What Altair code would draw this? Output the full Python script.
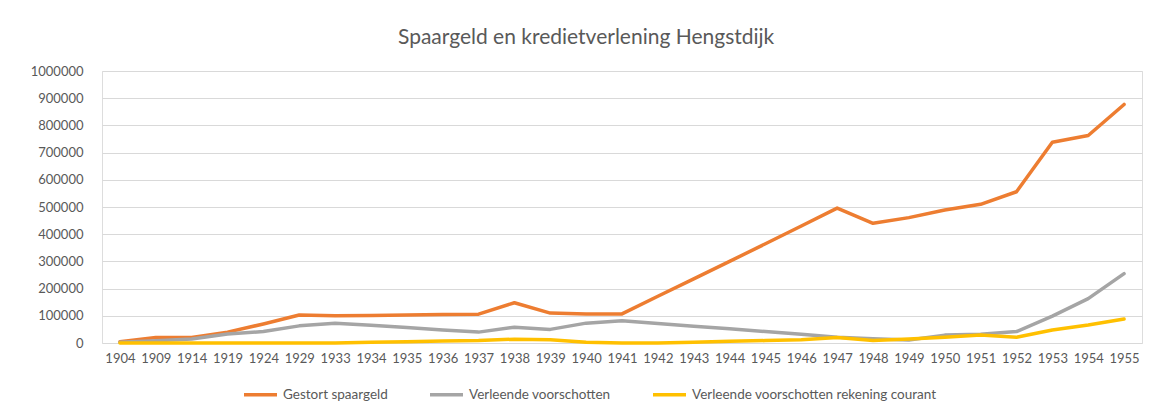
import altair as alt
import pandas as pd

years = ["1904", "1909", "1914", "1919", "1924", "1929", "1933", "1934", "1935", "1936",
         "1937", "1938", "1939", "1940", "1941", "1942", "1943", "1944", "1945", "1946",
         "1947", "1948", "1949", "1950", "1951", "1952", "1953", "1954", "1955"]

gestort = [5000, 20000, 20000, 40000, 70000, 103000, 100000, 101000, 103000, 105000,
           106000, 148000, 110000, 107000, 107000, 172000, 236000, 300000, 365000, 430000,
           496000, 440000, 461000, 489000, 510000, 556000, 738000, 763000, 877000]

voorschotten = [3000, 8000, 15000, 33000, 42000, 63000, 73000, 65000, 57000, 48000,
                40000, 58000, 50000, 73000, 82000, 72000, 62000, 52000, 42000, 32000,
                21000, 16000, 11000, 29000, 32000, 42000, 99000, 163000, 255000]

rekening_courant = [0, 0, 0, 0, 0, 0, 0, 3000, 5000, 7000,
                    9000, 14000, 12000, 3000, 0, 0, 3000, 6000, 9000, 12000,
                    20000, 9000, 15000, 21000, 29000, 21000, 48000, 66000, 88000]

series_names = ["Gestort spaargeld", "Verleende voorschotten",
                "Verleende voorschotten rekening courant"]
series_colors = ["#ED7D31", "#A5A5A5", "#FFC000"]
y_ticks = list(range(0, 1000001, 100000))

rows = []
for name, vals in zip(series_names, [gestort, voorschotten, rekening_courant]):
    for i, (yr, v) in enumerate(zip(years, vals)):
        rows.append({"jaar": yr, "waarde": v, "reeks": name, "order": i})
df = pd.DataFrame(rows)

W, H = 1040, 272
FONT = "Lato"
TXT = "#595959"

chart = alt.Chart(df).mark_line(
    strokeWidth=3.5, strokeCap="round", strokeJoin="round"
).encode(
    x=alt.X("jaar:N", sort=years,
            scale=alt.Scale(type="point", padding=0.5),
            axis=alt.Axis(title=None, labelAngle=0, domain=False, ticks=False,
                          grid=False, labelPadding=9, labelFontSize=13,
                          labelColor=TXT, labelFont=FONT)),
    y=alt.Y("waarde:Q",
            scale=alt.Scale(domain=[0, 1000000], nice=False),
            axis=alt.Axis(title=None, values=y_ticks, format="d", domain=False,
                          ticks=False, grid=True, gridColor="#D9D9D9",
                          labelPadding=19, labelFontSize=13, labelColor=TXT,
                          labelFont=FONT)),
    color=alt.Color("reeks:N",
                    scale=alt.Scale(domain=series_names, range=series_colors),
                    legend=alt.Legend(title=None, orient="none", direction="horizontal",
                                      legendX=140, legendY=305,
                                      symbolType="stroke", symbolSize=1089,
                                      symbolStrokeWidth=3.5, labelOffset=4,
                                      columnPadding=35, labelFontSize=13.5,
                                      labelLimit=500,
                                      labelColor=TXT, labelFont=FONT)),
    order="order:Q",
).properties(
    width=W, height=H,
    title=alt.TitleParams("Spaargeld en kredietverlening Hengstdijk", fontSize=21,
                          font=FONT, fontWeight="normal", color=TXT,
                          anchor="middle", frame="bounds", offset=17),
    autosize=alt.AutoSizeParams(type="none"),
    padding={"left": 94, "top": 63, "right": 2, "bottom": 64},
).configure_view(stroke=None).configure(background="white")

chart.save("out.html", embed_options={"renderer": "svg", "actions": False})
